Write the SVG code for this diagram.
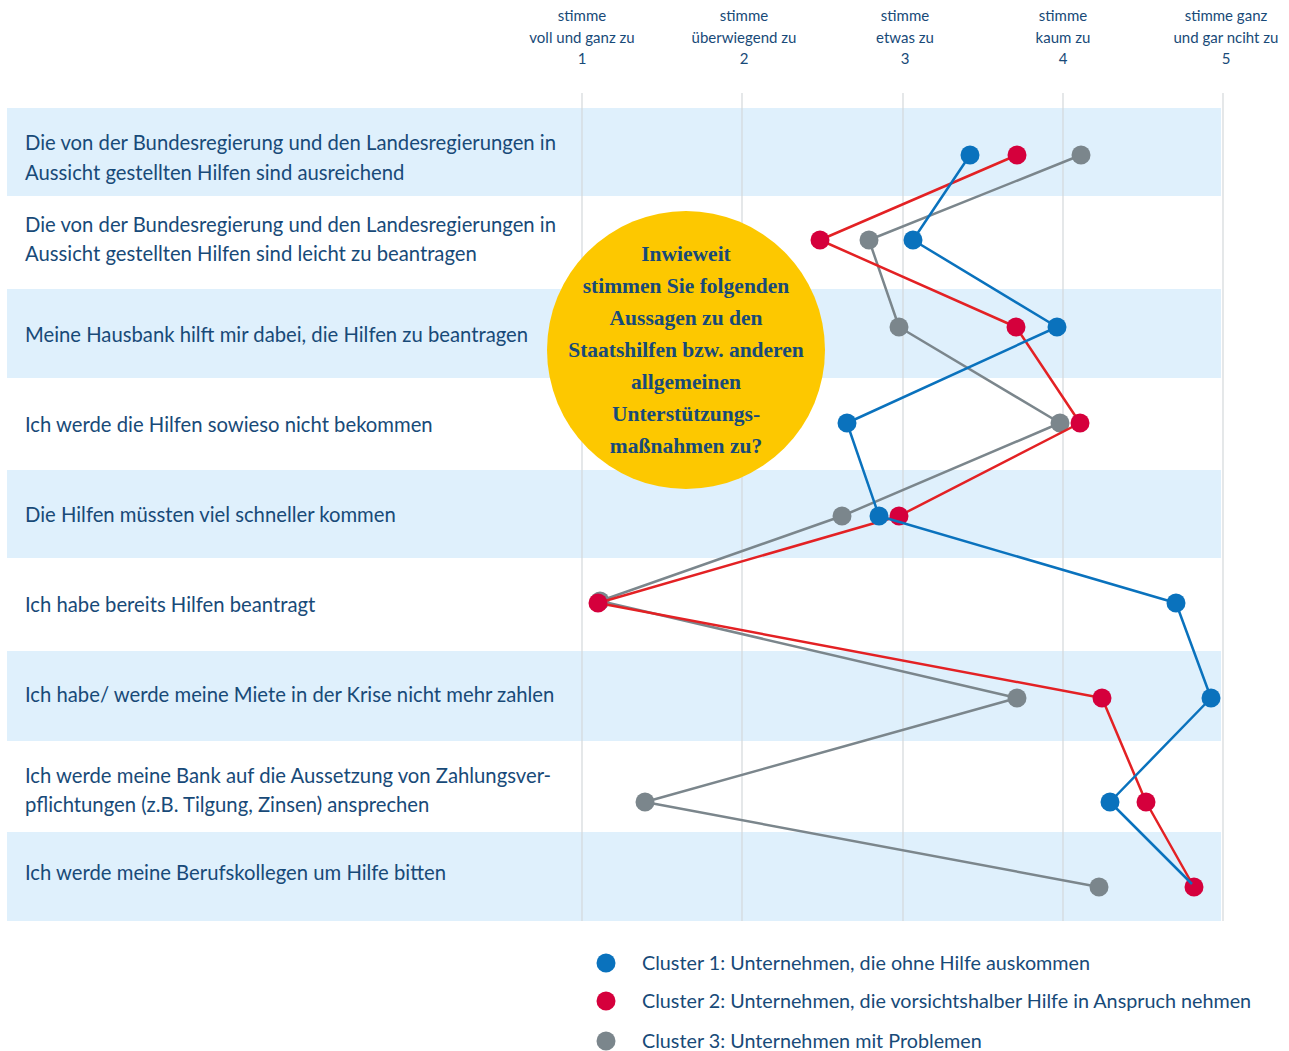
<svg xmlns="http://www.w3.org/2000/svg" width="1289" height="1051" viewBox="0 0 1289 1051">
<style>
.band{fill:#dff0fc}
.grid{stroke:#d4d8db;stroke-width:1.2}
.lbl{font-family:Lato,"Noto Sans",sans-serif;font-size:20.25px;fill:#184a78}
.leg{font-family:Lato,"Noto Sans",sans-serif;font-size:19.75px;fill:#184a78}
.hdr{font-family:Lato,"Noto Sans",sans-serif;font-size:15px;fill:#184a78;text-anchor:middle}
.q{font-family:"Liberation Serif","DejaVu Serif",serif;font-weight:bold;font-size:21.5px;fill:#184a78;text-anchor:middle}
.ln{fill:none;stroke-width:2.5;stroke-linejoin:round}
.c1{fill:#0a72bd}.c2{fill:#d5003c}.c3{fill:#7b868c}
</style>
<rect width="1289" height="1051" fill="#fff"/>
<g id="bands">
<rect class="band" x="7" y="108" width="1214" height="88"/>
<rect class="band" x="7" y="289" width="1214" height="89"/>
<rect class="band" x="7" y="470" width="1214" height="88"/>
<rect class="band" x="7" y="651" width="1214" height="90"/>
<rect class="band" x="7" y="832" width="1214" height="89"/>
</g>
<g id="grid">
<line class="grid" x1="582" y1="93" x2="582" y2="921"/>
<line class="grid" x1="742" y1="93" x2="742" y2="921"/>
<line class="grid" x1="903" y1="93" x2="903" y2="921"/>
<line class="grid" x1="1063" y1="93" x2="1063" y2="921"/>
<line class="grid" x1="1223" y1="93" x2="1223" y2="921"/>
</g>
<g id="header">
<text class="hdr" x="582" y="21">stimme</text><text class="hdr" x="582" y="43">voll und ganz zu</text><text class="hdr" x="582" y="64">1</text>
<text class="hdr" x="744" y="21">stimme</text><text class="hdr" x="744" y="43">überwiegend zu</text><text class="hdr" x="744" y="64">2</text>
<text class="hdr" x="905" y="21">stimme</text><text class="hdr" x="905" y="43">etwas zu</text><text class="hdr" x="905" y="64">3</text>
<text class="hdr" x="1063" y="21">stimme</text><text class="hdr" x="1063" y="43">kaum zu</text><text class="hdr" x="1063" y="64">4</text>
<text class="hdr" x="1226" y="21">stimme ganz</text><text class="hdr" x="1226" y="43">und gar nciht zu</text><text class="hdr" x="1226" y="64">5</text>
</g>
<g id="row1"><text class="lbl" x="25" y="150">Die von der Bundesregierung und den Landesregierungen in</text><text class="lbl" x="25" y="180">Aussicht gestellten Hilfen sind ausreichend</text></g>
<g id="row2"><text class="lbl" x="25" y="232">Die von der Bundesregierung und den Landesregierungen in</text><text class="lbl" x="25" y="261">Aussicht gestellten Hilfen sind leicht zu beantragen</text></g>
<g id="row3"><text class="lbl" x="25" y="342">Meine Hausbank hilft mir dabei, die Hilfen zu beantragen</text></g>
<g id="row4"><text class="lbl" x="25" y="432">Ich werde die Hilfen sowieso nicht bekommen</text></g>
<g id="row5"><text class="lbl" x="25" y="522">Die Hilfen müssten viel schneller kommen</text></g>
<g id="row6"><text class="lbl" x="25" y="612">Ich habe bereits Hilfen beantragt</text></g>
<g id="row7"><text class="lbl" x="25" y="702">Ich habe/ werde meine Miete in der Krise nicht mehr zahlen</text></g>
<g id="row8"><text class="lbl" x="25" y="783">Ich werde meine Bank auf die Aussetzung von Zahlungsver-</text><text class="lbl" x="25" y="812">pflichtungen (z.B. Tilgung, Zinsen) ansprechen</text></g>
<g id="row9"><text class="lbl" x="25" y="880">Ich werde meine Berufskollegen um Hilfe bitten</text></g>
<g id="question">
<circle cx="686" cy="350" r="139" fill="#fdc800"/>
<text class="q" x="686" y="261">Inwieweit</text>
<text class="q" x="686" y="293">stimmen Sie folgenden</text>
<text class="q" x="686" y="325">Aussagen zu den</text>
<text class="q" x="686" y="357">Staatshilfen bzw. anderen</text>
<text class="q" x="686" y="389">allgemeinen</text>
<text class="q" x="686" y="421">Unterstützungs-</text>
<text class="q" x="686" y="453">maßnahmen zu?</text>
</g>
<g id="connectors">
<g id="cluster3">
<polyline class="ln" stroke="#7b868c" points="1081,155 869,240 899,327 1060,423 842,516 600,601 1017,698 645,802 1099,887"/>
<g class="c3"><circle cx="1081" cy="155" r="9.5"/><circle cx="869" cy="240" r="9.5"/><circle cx="899" cy="327" r="9.5"/><circle cx="1060" cy="423" r="9.5"/><circle cx="842" cy="516" r="9.5"/><circle cx="600" cy="601" r="9.5"/><circle cx="1017" cy="698" r="9.5"/><circle cx="645" cy="802" r="9.5"/><circle cx="1099" cy="887" r="9.5"/></g>
</g>
<g id="cluster2">
<polyline class="ln" stroke="#e32124" points="1017,155 820,240 1016,327 1080,423 899,516 598,603 1102,698 1146,802 1194,887"/>
<g class="c2"><circle cx="1017" cy="155" r="9.5"/><circle cx="820" cy="240" r="9.5"/><circle cx="1016" cy="327" r="9.5"/><circle cx="1080" cy="423" r="9.5"/><circle cx="899" cy="516" r="9.5"/><circle cx="598" cy="603" r="9.5"/><circle cx="1102" cy="698" r="9.5"/><circle cx="1146" cy="802" r="9.5"/><circle cx="1194" cy="887" r="9.5"/></g>
</g>
<g id="cluster1">
<polyline class="ln" stroke="#0a72bd" points="970,155 913,240 1057,327 847,423 879,516 1176,603 1211,698 1110,802 1192,884"/>
<g class="c1"><circle cx="970" cy="155" r="9.5"/><circle cx="913" cy="240" r="9.5"/><circle cx="1057" cy="327" r="9.5"/><circle cx="847" cy="423" r="9.5"/><circle cx="879" cy="516" r="9.5"/><circle cx="1176" cy="603" r="9.5"/><circle cx="1211" cy="698" r="9.5"/><circle cx="1110" cy="802" r="9.5"/></g>
</g>
</g>
<g id="legend">
<circle class="c1" cx="606" cy="963" r="9.5"/><text class="leg" x="642" y="970">Cluster 1: Unternehmen, die ohne Hilfe auskommen</text>
<circle class="c2" cx="606" cy="1001" r="9.5"/><text class="leg" x="642" y="1008">Cluster 2: Unternehmen, die vorsichtshalber Hilfe in Anspruch nehmen</text>
<circle class="c3" cx="606" cy="1041" r="9.5"/><text class="leg" x="642" y="1048">Cluster 3: Unternehmen mit Problemen</text>
</g>
</svg>
